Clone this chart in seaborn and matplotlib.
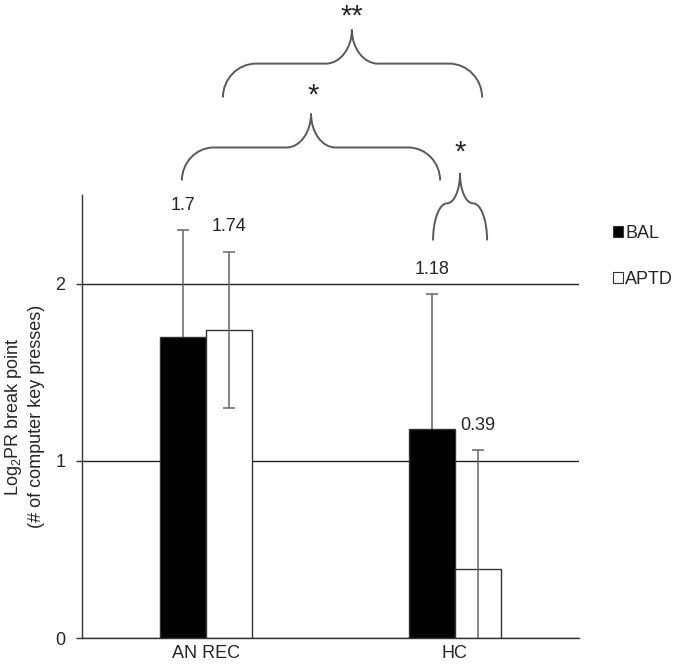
import numpy as np
import pandas as pd
import matplotlib
matplotlib.use('Agg')
import matplotlib.pyplot as plt
import seaborn as sns
from matplotlib.path import Path
from matplotlib.patches import PathPatch, Patch

# Datos
groups = ['AN REC', 'HC']
conditions = ['BAL', 'APTD']
bal_means = [1.70, 1.18]
aptd_means = [1.74, 0.39]
bal_err = [0.60, 0.76]
aptd_err = [0.44, 0.67]
y_ticks = [0, 1, 2]
ylabel = 'Log$_2$PR break point\n(# of computer key presses)'

df = pd.DataFrame({
    'group': groups * 2,
    'condition': [conditions[0]] * 2 + [conditions[1]] * 2,
    'value': bal_means + aptd_means,
})
errors = {'BAL': bal_err, 'APTD': aptd_err}

sns.set_style('white')
plt.rcParams['font.family'] = ['Liberation Sans', 'DejaVu Sans']
plt.rcParams['mathtext.fontset'] = 'custom'
plt.rcParams['mathtext.rm'] = 'Liberation Sans'
plt.rcParams['mathtext.default'] = 'regular'
FS = 13


def brace(ax, x0, x1, xm, yb, yf, yt, rx, rx2):
    """Llave horizontal abierta hacia abajo, en coordenadas de datos."""
    k = 0.55
    verts = [
        (x0, yb),
        (x0, yb + k * (yf - yb)), (x0 + (1 - k) * rx, yf), (x0 + rx, yf),
        (xm - rx2, yf),
        (xm - rx2 + k * rx2, yf), (xm, yt - k * (yt - yf)), (xm, yt),
        (xm, yt - k * (yt - yf)), (xm + rx2 - k * rx2, yf), (xm + rx2, yf),
        (x1 - rx, yf),
        (x1 - (1 - k) * rx, yf), (x1, yb + k * (yf - yb)), (x1, yb),
    ]
    codes = ([Path.MOVETO] + [Path.CURVE4] * 3 + [Path.LINETO]
             + [Path.CURVE4] * 6 + [Path.LINETO] + [Path.CURVE4] * 3)
    ax.add_patch(PathPatch(Path(verts, codes), fill=False, edgecolor='#5a5a5a',
                           lw=1.4, clip_on=False, zorder=5))


fig = plt.figure(figsize=(6.74, 6.66), dpi=100)
ax = fig.add_axes([0.1217, 0.0416, 0.7374, 0.6656])

sns.barplot(data=df, x='group', y='value', hue='condition', hue_order=conditions,
            palette=['black', 'white'], edgecolor='#333333', linewidth=1,
            width=0.37, errorbar=None, legend=False, ax=ax)

# Barras de error y etiquetas
for cont, cond in zip(ax.containers, conditions):
    xs = [b.get_x() + b.get_width() / 2 for b in cont]
    hs = [b.get_height() for b in cont]
    err = errors[cond]
    z = 0.8 if cond == 'BAL' else 3
    ax.errorbar(xs, hs, yerr=err, fmt='none', ecolor='#666666', elinewidth=1.1,
                capsize=4, capthick=1.1, zorder=z)
    for x, h, e in zip(xs, hs, err):
        ax.text(x, h + e + 0.14, f'{h:g}', ha='center', va='center',
                fontsize=FS, clip_on=False)

ax.set_ylim(0, 2.5)
ax.set_yticks(y_ticks)
ax.yaxis.grid(True, color='#222222', lw=1)
ax.set_axisbelow(True)
ax.set_xlabel('')
ax.set_ylabel(ylabel, fontsize=FS, linespacing=1.3)
ax.yaxis.set_label_coords(-0.075, 0.5)

ax.set_xticks([-0.5, 0.5, 1.5], minor=True)
ax.tick_params(axis='x', which='major', length=0, pad=5, labelsize=FS)
ax.tick_params(axis='x', which='minor', length=4, width=1, color='#333333', direction='out')
ax.tick_params(axis='y', length=4, width=1, color='#333333', direction='out',
               pad=8, labelsize=FS, left=True)
for s in ['top', 'right']:
    ax.spines[s].set_visible(False)
for s in ['left', 'bottom']:
    ax.spines[s].set_color('#333333')
    ax.spines[s].set_linewidth(1)

# Leyenda
handles = [Patch(facecolor='black', edgecolor='#333333', lw=0.8),
           Patch(facecolor='white', edgecolor='#333333', lw=0.8)]
fig.legend(handles, conditions, loc='center left', bbox_to_anchor=(0.909, 0.615),
           frameon=False, fontsize=FS, handlelength=0.55, handleheight=0.55,
           handletextpad=0.15, labelspacing=1.65, borderpad=0, borderaxespad=0)

# Llaves de significancia
brace(ax, 0.067, 1.110, 0.586, 3.050, 3.241, 3.433, 0.133, 0.105)
brace(ax, -0.098, 0.941, 0.4215, 2.582, 2.768, 2.959, 0.128, 0.098)
brace(ax, 0.9125, 1.130, 1.021, 2.244, 2.453, 2.622, 0.056, 0.052)
AST = 21
ax.text(0.585, 3.585, '**', ha='center', va='top', fontsize=AST, clip_on=False)
ax.text(0.43, 3.142, '*', ha='center', va='top', fontsize=AST, clip_on=False)
ax.text(1.021, 2.816, '*', ha='center', va='top', fontsize=AST, clip_on=False)

plt.savefig('out.png', dpi=100)
plt.close()
